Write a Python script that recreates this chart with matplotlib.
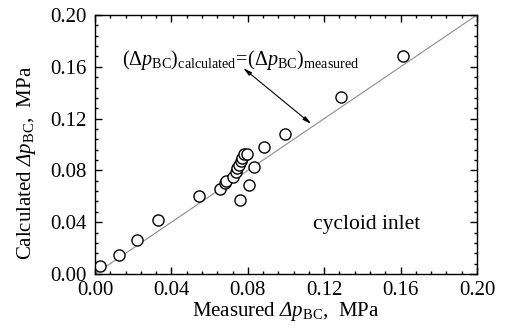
import matplotlib

matplotlib.use("Agg")
import matplotlib.pyplot as plt
from matplotlib.ticker import MultipleLocator

# Values (MPa)
measured = [
    0.0025, 0.0124, 0.0218, 0.0332, 0.0546, 0.0656, 0.0682, 0.0687,
    0.0724, 0.0738, 0.0745, 0.0754, 0.0763, 0.0771, 0.0782, 0.0794,
    0.0761, 0.0806, 0.0832, 0.0887, 0.0996, 0.1290, 0.1610,
]
calculated = [
    0.0062, 0.0144, 0.0260, 0.0414, 0.0605, 0.0654, 0.0700, 0.0718,
    0.0751, 0.0790, 0.0816, 0.0842, 0.0873, 0.0898, 0.0924, 0.0927,
    0.0571, 0.0687, 0.0824, 0.0983, 0.1080, 0.1364, 0.1686,
]
equal_line = [0.0, 0.2]
x_ticks = [0.00, 0.04, 0.08, 0.12, 0.16, 0.20]
y_ticks = [0.00, 0.04, 0.08, 0.12, 0.16, 0.20]

plt.rcParams["font.family"] = "Liberation Serif"
plt.rcParams["mathtext.fontset"] = "custom"
plt.rcParams["mathtext.rm"] = "Liberation Serif"
plt.rcParams["mathtext.it"] = "Liberation Serif:italic"
# mathtext keeps Greek capitals upright in \mathit, so use sf slot for italic Delta
plt.rcParams["mathtext.sf"] = "Liberation Serif:italic"

fig = plt.figure(figsize=(5.07, 3.31), dpi=100)
ax = fig.add_axes([0.1874, 0.1722, 0.7534, 0.7825])

ax.plot(equal_line, equal_line, color="#8c8c8c", linewidth=0.8, zorder=1)
ax.plot(
    measured,
    calculated,
    linestyle="none",
    marker="o",
    markersize=8,
    markerfacecolor="white",
    markeredgecolor="black",
    markeredgewidth=1.0,
    zorder=2,
)

ax.set_xlim(0, 0.2)
ax.set_ylim(0, 0.2)
ax.set_xticks(x_ticks)
ax.set_yticks(y_ticks)
ax.set_xticklabels([f"{t:.2f}" for t in x_ticks])
ax.set_yticklabels([f"{t:.2f}" for t in y_ticks])
ax.xaxis.set_minor_locator(MultipleLocator(0.008))
ax.yaxis.set_minor_locator(MultipleLocator(0.008))
ax.tick_params(which="both", direction="in", top=True, right=True, width=1.0)
ax.tick_params(which="major", length=5, labelsize=15)
ax.tick_params(axis="x", which="major", pad=5)
ax.tick_params(axis="y", which="major", pad=6)
ax.tick_params(which="minor", length=2.5)
for spine in ax.spines.values():
    spine.set_linewidth(1.0)

ax.set_xlabel(r"Measured $\mathsf{Δp}_{\rm BC}$,  MPa", fontsize=15, labelpad=0)
ax.set_ylabel(r"Calculated $\mathsf{Δp}_{\rm BC}$,  MPa", fontsize=15)
ax.yaxis.set_label_coords(-0.15, 0.43)

ax.annotate(
    r"$(\Delta\mathit{p}_{\rm BC})_{\rm calculated}\!=\!(\Delta\mathit{p}_{\rm BC})_{\rm measured}$",
    xy=(0.1133, 0.1158),
    xytext=(0.0141, 0.165),
    fontsize=14.5,
    ha="left",
    va="center",
)
ax.annotate(
    "",
    xy=(0.1133, 0.1158),
    xytext=(0.0776, 0.159),
    arrowprops={"arrowstyle": "<|-|>,head_length=0.5,head_width=0.12",
                "color": "black", "linewidth": 0.8,
                "shrinkA": 0, "shrinkB": 0},
)
ax.text(0.114, 0.0386, "cycloid inlet", fontsize=15.5, ha="left", va="center")

fig.savefig("out.png", dpi=100)
